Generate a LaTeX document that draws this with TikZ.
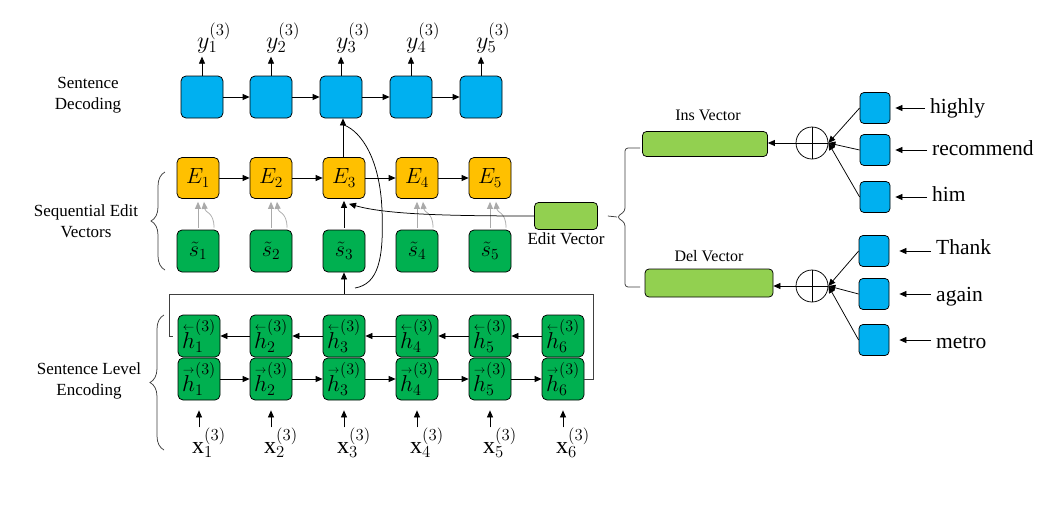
\RequirePackage{fix-cm}
\documentclass[tikz,border=0pt]{standalone}
\usepackage{fontspec}
\setmainfont{Liberation Serif}
\usetikzlibrary{arrows.meta,positioning,decorations.pathreplacing}

\definecolor{decblue}{RGB}{0,176,240}
\definecolor{editorange}{RGB}{255,192,0}
\definecolor{encgreen}{RGB}{0,176,80}
\definecolor{vecgreen}{RGB}{146,208,80}
\definecolor{lightarrow}{RGB}{170,170,170}
\definecolor{bracket}{RGB}{64,64,64}

\newcommand{\lvec}[1]{{\stackrel{\scriptscriptstyle\leftarrow}{#1}}}
\newcommand{\rvec}[1]{{\stackrel{\scriptscriptstyle\rightarrow}{#1}}}

\tikzset{
  cell/.style={draw=black, line width=0.75pt, rounded corners=5pt, minimum width=42pt,
    minimum height=42pt, inner sep=0pt, font=\fontsize{22}{24}\selectfont},
  decnode/.style={cell, fill=decblue},
  editnode/.style={cell, fill=editorange, minimum height=41pt},
  snode/.style={cell, fill=encgreen},
  hnode/.style={cell, fill=encgreen, font=\fontsize{23}{24}\selectfont},
  vecnode/.style={draw=black, line width=0.75pt, rounded corners=4pt, fill=vecgreen, inner sep=0pt},
  wordnode/.style={cell, fill=decblue, minimum width=30pt, minimum height=31pt, rounded corners=4pt},
  plusnode/.style={circle, draw=black, line width=0.75pt, minimum size=32pt, inner sep=0pt,
    path picture={\draw[line width=0.75pt] (path picture bounding box.north) -- (path picture bounding box.south)
      (path picture bounding box.west) -- (path picture bounding box.east);}},
  mlab/.style={inner sep=1pt, font=\fontsize{24}{26}\selectfont},
  sidelab/.style={align=center, inner sep=1pt, font=\fontsize{17}{20.5}\selectfont},
  veclab/.style={inner sep=1pt, font=\fontsize{16}{19}\selectfont},
  wordlab/.style={anchor=base west, inner sep=5pt, font=\fontsize{21.5}{24}\selectfont},
  arr/.style={-{Triangle[length=7pt,width=6pt]}, line width=0.75pt},
  garr/.style={arr, draw=lightarrow, color=lightarrow},
  brline/.style={draw=bracket, line width=0.75pt},
}

\begin{document}
\begin{tikzpicture}[x=1pt,y=-1pt]
\path[use as bounding box, fill=white] (0,0) rectangle (1059,504);

% sentence decoding
\node[sidelab] (declab) at (88,95) {Sentence\\Decoding};
\node[decnode] (dec1) at (202,97) {};
\node[decnode] (dec2) at (271,97) {};
\node[decnode] (dec3) at (341,97) {};
\node[decnode] (dec4) at (411,97) {};
\node[decnode] (dec5) at (481,97) {};

\node[mlab] (y1) at (214,38) {$y_1^{(3)}$};
\node[mlab] (y2) at (283,38) {$y_2^{(3)}$};
\node[mlab] (y3) at (353,38) {$y_3^{(3)}$};
\node[mlab] (y4) at (423,38) {$y_4^{(3)}$};
\node[mlab] (y5) at (493,38) {$y_5^{(3)}$};

\draw[arr] (dec1.north) -- ([yshift=19pt]dec1.north);
\draw[arr] (dec2.north) -- ([yshift=19pt]dec2.north);
\draw[arr] (dec3.north) -- ([yshift=19pt]dec3.north);
\draw[arr] (dec4.north) -- ([yshift=19pt]dec4.north);
\draw[arr] (dec5.north) -- ([yshift=19pt]dec5.north);

\draw[arr] (dec1) -- (dec2);
\draw[arr] (dec2) -- (dec3);
\draw[arr] (dec3) -- (dec4);
\draw[arr] (dec4) -- (dec5);

% sequential edit vectors
\node[sidelab] (seqlab) at (86,221) {Sequential Edit\\Vectors};
\draw[brline, decorate, decoration={brace, amplitude=14pt}] (165,270) -- (165,172);

\node[editnode] (E1) at (198,178) {$E_1$};
\node[editnode] (E2) at (271,178) {$E_2$};
\node[editnode] (E3) at (344,178) {$E_3$};
\node[editnode] (E4) at (417,178) {$E_4$};
\node[editnode] (E5) at (490,178) {$E_5$};

\draw[arr] (E1) -- (E2);
\draw[arr] (E2) -- (E3);
\draw[arr] (E3) -- (E4);
\draw[arr] (E4) -- (E5);

\node[snode] (s1) at (198,251) {$\tilde{s}_1$};
\node[snode] (s2) at (271,251) {$\tilde{s}_2$};
\node[snode] (s3) at (344,251) {$\tilde{s}_3$};
\node[snode] (s4) at (417,251) {$\tilde{s}_4$};
\node[snode] (s5) at (490,251) {$\tilde{s}_5$};

\draw[garr] ([yshift=2pt]s1.north) -- ([yshift=-3pt]E1.south);
\draw[garr] ([xshift=16pt,yshift=2pt]s1.north) .. controls ([xshift=16pt,yshift=18pt]s1.north) and ([xshift=7pt,yshift=-14pt]E1.south) .. ([xshift=6pt,yshift=-3pt]E1.south);
\draw[garr] ([yshift=2pt]s2.north) -- ([yshift=-3pt]E2.south);
\draw[garr] ([xshift=16pt,yshift=2pt]s2.north) .. controls ([xshift=16pt,yshift=18pt]s2.north) and ([xshift=7pt,yshift=-14pt]E2.south) .. ([xshift=6pt,yshift=-3pt]E2.south);
\draw[arr] ([yshift=2pt]s3.north) -- ([yshift=-2pt]E3.south);
\draw[garr] ([yshift=2pt]s4.north) -- ([yshift=-3pt]E4.south);
\draw[garr] ([xshift=16pt,yshift=2pt]s4.north) .. controls ([xshift=16pt,yshift=18pt]s4.north) and ([xshift=7pt,yshift=-14pt]E4.south) .. ([xshift=6pt,yshift=-3pt]E4.south);
\draw[garr] ([yshift=2pt]s5.north) -- ([yshift=-3pt]E5.south);
\draw[garr] ([xshift=16pt,yshift=2pt]s5.north) .. controls ([xshift=16pt,yshift=18pt]s5.north) and ([xshift=7pt,yshift=-14pt]E5.south) .. ([xshift=6pt,yshift=-3pt]E5.south);

\draw[arr] ([xshift=-1pt]E3.north) -- ([xshift=-1pt]E3.north |- dec3.south);

% sentence level encoding
\node[sidelab] (enclab) at (89,381) {Sentence Level\\Encoding};
\draw[brline, decorate, decoration={brace, amplitude=14pt}] (164,450) -- (164,315);

\node[hnode] (hb1) at (199,336) {$\lvec{h}_1^{(3)}$};
\node[hnode] (hb2) at (271,336) {$\lvec{h}_2^{(3)}$};
\node[hnode] (hb3) at (344,336) {$\lvec{h}_3^{(3)}$};
\node[hnode] (hb4) at (417,336) {$\lvec{h}_4^{(3)}$};
\node[hnode] (hb5) at (490,336) {$\lvec{h}_5^{(3)}$};
\node[hnode] (hb6) at (563,336) {$\lvec{h}_6^{(3)}$};

\node[hnode] (hf1) at (199,379) {$\rvec{h}_1^{(3)}$};
\node[hnode] (hf2) at (271,379) {$\rvec{h}_2^{(3)}$};
\node[hnode] (hf3) at (344,379) {$\rvec{h}_3^{(3)}$};
\node[hnode] (hf4) at (417,379) {$\rvec{h}_4^{(3)}$};
\node[hnode] (hf5) at (490,379) {$\rvec{h}_5^{(3)}$};
\node[hnode] (hf6) at (563,379) {$\rvec{h}_6^{(3)}$};

\draw[arr] (hb2) -- (hb1);
\draw[arr] (hb3) -- (hb2);
\draw[arr] (hb4) -- (hb3);
\draw[arr] (hb5) -- (hb4);
\draw[arr] (hb6) -- (hb5);

\draw[arr] (hf1) -- (hf2);
\draw[arr] (hf2) -- (hf3);
\draw[arr] (hf3) -- (hf4);
\draw[arr] (hf4) -- (hf5);
\draw[arr] (hf5) -- (hf6);

\node[mlab] (x1) at (209,443) {$\mathrm{x}_1^{(3)}$};
\node[mlab] (x2) at (281,443) {$\mathrm{x}_2^{(3)}$};
\node[mlab] (x3) at (354,443) {$\mathrm{x}_3^{(3)}$};
\node[mlab] (x4) at (427,443) {$\mathrm{x}_4^{(3)}$};
\node[mlab] (x5) at (500,443) {$\mathrm{x}_5^{(3)}$};
\node[mlab] (x6) at (573,443) {$\mathrm{x}_6^{(3)}$};

\draw[arr] ([yshift=-27pt]hf1.south) -- ([yshift=-10pt]hf1.south);
\draw[arr] ([yshift=-27pt]hf2.south) -- ([yshift=-10pt]hf2.south);
\draw[arr] ([yshift=-27pt]hf3.south) -- ([yshift=-10pt]hf3.south);
\draw[arr] ([yshift=-27pt]hf4.south) -- ([yshift=-10pt]hf4.south);
\draw[arr] ([yshift=-27pt]hf5.south) -- ([yshift=-10pt]hf5.south);
\draw[arr] ([yshift=-27pt]hf6.south) -- ([yshift=-10pt]hf6.south);

\coordinate (enctop) at (344,294);
\draw[brline] (hf6.east) -- ++(9,0) |- (169,294) |- ([xshift=-5pt]hb1.west);
\draw[arr] (enctop) -- (s3.south);
\draw[line width=0.75pt] (355,288) .. controls (378,284) and (384,260) .. (382,210)
  .. controls (380,160) and (362,132) .. (344,125);

% edit vector
\node[vecnode, minimum width=63pt, minimum height=27pt] (edit) at (566,216) {};
\node[sidelab, below=2pt of edit] (editlab) {Edit Vector};
\draw[arr] (edit.west) .. controls (440,216) and (385,214) .. ([xshift=5pt,yshift=-5pt]E3.south);

\draw[brline] ([xshift=10pt]edit.east) -- (617,217);
\draw[brline, rounded corners=3pt] (640,148) -- (625,148) -- (625,211) -- (617,217) -- (625,223) -- (625,287) -- (640,287);

% ins vector
\node[vecnode, minimum width=125pt, minimum height=25pt] (insvec) at (705,144) {};
\node[veclab] (inslab) at (708,115) {Ins Vector};
\node[plusnode] (insplus) at (812,143) {};
\draw[arr] (insplus.west) -- (insplus.west -| insvec.east);

\node[wordnode] (wi1) at (875,108) {};
\node[wordnode] (wi2) at (875,150) {};
\node[wordnode] (wi3) at (875,197) {};
\node[wordlab] (wt1) at (925,113) {highly};
\node[wordlab] (wt2) at (927,155) {recommend};
\node[wordlab] (wt3) at (927,201) {him};
\draw[arr] (wt1.west |- wi1.east) -- ([xshift=5pt]wi1.east);
\draw[arr] (wt2.west |- wi2.east) -- ([xshift=5pt]wi2.east);
\draw[arr] (wt3.west |- wi3.east) -- ([xshift=5pt]wi3.east);
\draw[arr] (wi1.west) -- (insplus.east);
\draw[arr] (wi2.west) -- (insplus.east);
\draw[arr] (wi3.west) -- (insplus.east);

% del vector
\node[vecnode, minimum width=128pt, minimum height=28pt] (delvec) at (709,283) {};
\node[veclab] (dellab) at (709,256) {Del Vector};
\node[plusnode] (delplus) at (812,286) {};
\draw[arr] (delplus.west) -- (delplus.west -| delvec.east);

\node[wordnode] (wd1) at (874,251) {};
\node[wordnode] (wd2) at (874,294) {};
\node[wordnode] (wd3) at (874,340) {};
\node[wordlab] (wt4) at (931,254) {Thank};
\node[wordlab] (wt5) at (931,301) {again};
\node[wordlab] (wt6) at (931,348) {metro};
\draw[arr] (wt4.west |- wd1.east) -- ([xshift=10pt]wd1.east);
\draw[arr] (wt5.west |- wd2.east) -- ([xshift=10pt]wd2.east);
\draw[arr] (wt6.west |- wd3.east) -- ([xshift=10pt]wd3.east);
\draw[arr] (wd1.west) -- (delplus.east);
\draw[arr] (wd2.west) -- (delplus.east);
\draw[arr] (wd3.west) -- (delplus.east);
\end{tikzpicture}
\end{document}
